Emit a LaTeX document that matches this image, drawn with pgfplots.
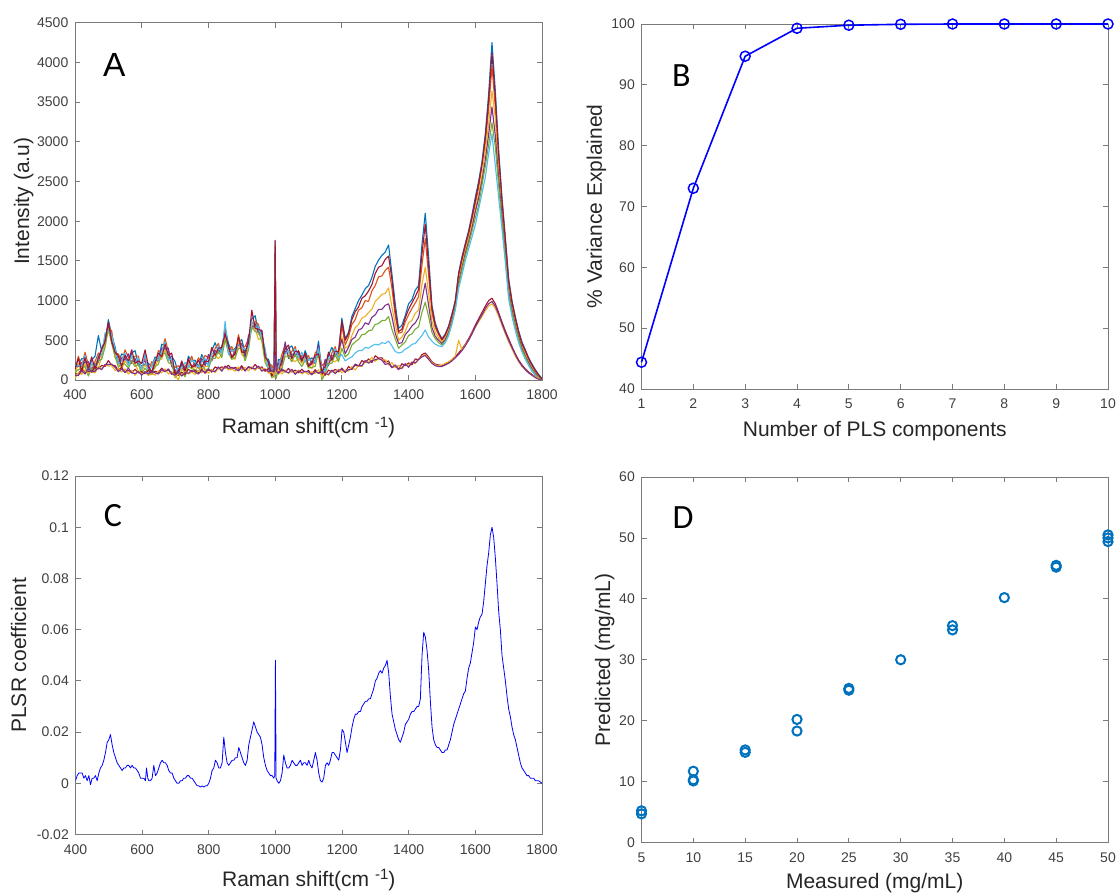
\documentclass[border=0pt]{standalone}
\usepackage{pgfplots}
\usepackage{pgfplotstable}
\pgfplotsset{compat=1.18}
\usepackage{fontspec}
\setmainfont{Liberation Sans}
\newfontfamily\calibri{Carlito}

\definecolor{m1}{rgb}{0,0.447,0.741}
\definecolor{m2}{rgb}{0.85,0.325,0.098}
\definecolor{m3}{rgb}{0.929,0.694,0.125}
\definecolor{m4}{rgb}{0.494,0.184,0.556}
\definecolor{m5}{rgb}{0.466,0.674,0.188}
\definecolor{m6}{rgb}{0.301,0.745,0.933}
\definecolor{m7}{rgb}{0.635,0.078,0.184}

\pgfplotstableread{
x b o y p g c r l1 l2 l3
400 210 120 70 170 90 180 140 80 20 60
410 190 300 210 170 130 180 270 75 95 55
420 270 170 80 220 150 180 110 140 70 120
430 270 350 210 220 170 310 280 95 130 75
440 100 190 80 230 50 80 140 110 85 150
450 250 140 200 120 150 220 290 100 105 100
460 300 230 130 200 100 150 140 165 90 110
470 560 340 150 220 240 310 280 140 160 155
480 360 290 300 400 260 310 390 185 145 130
490 460 550 450 500 410 590 480 170 195 195
500 760 660 670 710 640 620 730 245 175 195
510 560 620 510 490 460 570 480 185 180 200
520 420 330 280 380 300 390 350 180 120 160
530 220 330 240 200 160 210 300 125 145 105
540 330 230 140 280 210 240 170 160 100 140
550 300 380 240 250 200 340 310 95 140 95
560 200 290 180 330 150 180 240 120 75 150
570 340 230 290 210 240 310 380 90 125 90
580 370 300 200 270 170 220 210 135 60 80
590 200 300 110 180 200 270 240 90 110 105
600 180 110 120 220 80 130 210 105 75 60
610 200 290 190 240 150 330 380 80 105 105
620 210 110 120 160 90 70 180 125 55 75
630 170 230 120 100 70 180 90 75 80 110
640 290 200 150 250 170 260 220 110 60 90
650 260 370 280 240 200 250 340 95 115 75
660 450 350 260 400 330 360 290 150 90 130
670 440 520 380 390 340 480 450 105 140 105
680 270 360 250 400 220 250 310 130 75 140
690 300 190 250 170 200 270 340 70 105 80
700 230 160 60 130 30 80 70 105 40 60
710 80 180 0 60 80 150 120 60 80 95
720 200 130 140 240 100 150 230 95 65 50
730 90 180 80 130 40 220 110 70 105 95
740 300 200 210 250 180 160 270 135 75 85
750 240 300 190 170 140 250 160 105 100 120
760 250 160 110 210 130 220 180 120 70 100
770 170 280 190 150 110 160 250 85 115 75
780 320 220 130 270 200 230 160 140 90 120
790 230 310 170 180 130 270 240 85 130 95
800 190 280 170 320 140 170 230 130 85 140
810 370 260 320 240 270 340 410 100 135 110
820 470 400 300 370 270 320 310 165 90 110
830 360 460 270 340 360 430 400 140 150 165
840 380 310 320 420 280 330 410 165 135 110
850 660 650 550 600 510 740 580 150 175 175
860 460 360 370 410 340 320 430 185 125 145
870 360 420 310 290 260 370 280 135 140 160
880 400 310 260 360 280 370 330 160 110 140
890 460 570 480 440 400 450 540 135 165 115
900 510 410 320 460 390 420 350 180 120 160
910 340 420 280 290 240 380 350 115 160 115
920 430 520 410 560 380 410 470 160 115 170
930 770 660 720 640 670 740 880 140 165 150
940 810 740 640 710 610 660 650 195 120 140
950 600 700 510 580 600 670 640 150 170 175
960 590 520 530 630 490 540 620 165 135 110
970 270 360 260 310 220 400 290 110 145 135
980 260 160 170 210 140 120 230 145 85 105
990 130 190 80 60 30 140 50 95 100 120
997 170 80 30 130 50 140 100 120 70 100
1000 1750 1700 1500 1600 1550 1650 1760 350 300 320
1003 80 190 100 60 20 70 160 130 80 120
1010 260 160 70 210 140 170 100 85 130 85
1020 240 320 180 190 140 280 250 120 75 140
1030 350 440 330 480 300 330 390 100 125 110
1040 400 290 350 270 300 370 440 145 80 90
1050 430 360 260 330 230 280 270 100 120 135
1060 320 420 230 300 320 390 360 125 95 70
1070 330 260 270 370 230 280 360 90 125 115
1080 220 310 210 260 170 350 240 135 75 95
1090 370 270 280 320 250 230 340 95 100 110
1100 250 310 200 180 150 260 170 120 70 100
1110 280 190 140 240 160 250 210 75 105 65
1120 230 340 250 210 170 220 310 130 80 110
1130 490 390 300 440 370 400 330 85 130 85
1140 100 180 40 50 0 140 110 90 45 110
1150 130 220 110 260 80 110 170 60 95 80
1160 310 200 260 180 210 280 350 125 60 70
1170 410 340 240 310 210 260 250 100 120 125
1180 320 420 230 300 320 390 360 135 95 80
1190 330 260 270 370 230 280 360 100 135 125
1200 780 690 540 510 400 320 740 150 90 130
1210 520 440 400 330 290 240 500 95 125 105
1220 600 540 430 410 330 270 580 170 110 130
1230 800 700 560 510 440 290 760 135 170 135
1240 900 760 660 540 480 340 860 190 125 200
1250 1000 880 700 630 510 370 920 170 185 180
1260 1070 910 780 650 570 370 1030 245 170 180
1270 1150 1000 800 720 580 410 1060 220 230 245
1280 1190 990 850 700 620 400 1120 265 225 210
1290 1290 1120 890 790 630 430 1200 220 285 245
1300 1430 1190 990 820 700 450 1340 305 235 255
1310 1510 1300 1030 890 710 440 1420 275 270 270
1320 1570 1310 1080 890 750 470 1440 280 250 250
1330 1610 1380 1090 940 750 460 1520 225 255 195
1340 1700 1420 1160 960 800 490 1560 240 190 210
1350 1340 1160 920 800 640 430 1270 155 220 155
1360 960 810 700 590 520 360 880 180 155 190
1370 650 590 500 460 400 340 610 130 185 140
1380 690 600 540 470 440 350 640 205 140 150
1390 810 730 610 570 480 390 780 180 200 205
1400 960 820 720 620 560 410 890 215 185 160
1410 1010 900 750 680 580 450 970 190 225 225
1420 1130 970 840 720 640 460 1050 265 205 215
1430 1190 1050 880 790 670 510 1140 255 260 260
1440 1700 1440 1200 1010 850 560 1580 320 300 290
1450 2100 1780 1420 1220 980 630 1960 340 320 310
1460 1560 1320 1100 940 800 540 1440 290 270 260
1470 940 850 740 660 600 490 910 230 220 210
1480 720 660 600 550 520 450 690 200 190 180
1490 600 570 530 500 470 430 590 190 180 170
1500 520 500 480 460 440 420 510 180 190 170
1510 580 560 530 510 490 470 570 200 210 190
1520 680 650 630 600 580 560 670 220 230 210
1530 830 800 770 750 730 700 820 250 260 240
1540 1000 970 950 920 900 880 990 290 300 280
1550 1350 1310 1260 1230 1200 1150 1330 340 500 320
1560 1550 1500 1450 1410 1380 1320 1530 390 380 370
1570 1720 1670 1620 1590 1560 1500 1700 450 440 430
1580 1880 1830 1780 1740 1710 1650 1860 520 500 500
1590 2080 2020 1950 1910 1870 1800 2050 600 580 580
1600 2300 2220 2140 2120 2040 1950 2260 690 660 670
1610 2500 2420 2340 2290 2200 2150 2470 770 730 750
1620 2750 2700 2570 2510 2450 2350 2710 850 800 820
1630 3100 2980 2900 2770 2690 2550 3050 930 870 900
1640 3600 3410 3220 3090 2960 2850 3520 1000 930 960
1650 4250 3950 3640 3440 3240 3100 4120 1030 960 990
1660 3650 3440 3300 3080 2940 2700 3560 960 900 930
1670 2900 2770 2630 2540 2450 2300 2840 850 800 830
1680 2300 2210 2120 2060 2000 1900 2260 730 690 710
1690 1800 1730 1660 1610 1560 1480 1770 620 580 600
1700 1280 1220 1160 1120 1080 1020 1250 520 480 500
1710 1000 960 910 880 850 800 980 420 390 410
1720 800 760 720 690 670 620 780 330 300 320
1730 620 590 550 530 510 470 600 250 230 240
1740 480 450 420 400 380 350 460 190 170 180
1750 380 350 320 300 290 260 370 140 130 130
1760 280 260 230 220 200 180 270 100 90 90
1770 200 180 150 140 130 110 190 70 60 60
1780 130 110 90 80 70 60 120 40 40 30
1790 70 50 40 30 30 20 60 20 20 10
1800 20 10 0 0 0 0 10 0 0 0
}\spectra

\pgfplotstableread{
x y
400 0.001
405 0.003
410 0.004
415 0.004
420 0.004
425 0.002
430 0.003
435 0.001
440 0.003
445 -0.0005
450 0.002
455 0.002
460 0.003
465 0.001
470 0.004
475 0.006
480 0.007
485 0.009
490 0.012
495 0.016
500 0.017
505 0.019
510 0.015
515 0.012
520 0.010
525 0.008
530 0.007
540 0.005
545 0.006
550 0.006
555 0.007
560 0.007
565 0.006
570 0.007
575 0.006
580 0.006
585 0.005
590 0.004
595 0.002
600 0.002
605 0.002
610 0.001
613 0.006
617 0.002
620 0.001
625 0.001
630 0.002
635 0.007
640 0.003
645 0.004
650 0.006
655 0.008
660 0.009
665 0.008
670 0.008
675 0.007
680 0.005
685 0.004
690 0.004
695 0.002
700 0.001
705 0.0
710 0.0
715 0.001
720 0.001
725 0.002
730 0.002
735 0.003
740 0.003
745 0.002
750 0.002
755 0.001
760 0.0
765 -0.001
770 -0.001
775 -0.0015
780 -0.001
785 -0.0015
790 -0.001
795 -0.001
800 0.0
805 0.002
810 0.005
815 0.006
820 0.009
825 0.008
830 0.006
835 0.006
840 0.008
845 0.018
850 0.012
855 0.008
860 0.007
865 0.008
870 0.009
875 0.009
880 0.010
885 0.010
890 0.014
895 0.012
900 0.010
905 0.008
910 0.007
915 0.009
920 0.015
925 0.018
930 0.021
935 0.024
940 0.022
945 0.020
950 0.019
955 0.018
960 0.015
965 0.010
970 0.007
975 0.005
980 0.004
985 0.003
990 0.003
995 0.002
998 0.003
1000 0.048
1002 0.002
1005 0.001
1010 0.0
1015 0.001
1020 0.004
1025 0.011
1030 0.008
1035 0.006
1040 0.006
1045 0.007
1050 0.009
1055 0.008
1060 0.007
1065 0.007
1070 0.008
1075 0.009
1080 0.007
1085 0.008
1090 0.008
1095 0.007
1100 0.009
1105 0.007
1110 0.006
1115 0.009
1120 0.012
1125 0.009
1130 0.004
1135 0.001
1140 0.0005
1145 0.002
1150 0.007
1155 0.008
1160 0.007
1165 0.009
1170 0.012
1175 0.012
1180 0.011
1185 0.010
1190 0.009
1195 0.013
1200 0.021
1205 0.020
1210 0.016
1215 0.012
1220 0.015
1225 0.018
1230 0.022
1235 0.025
1240 0.027
1245 0.027
1250 0.028
1255 0.028
1260 0.030
1265 0.031
1270 0.032
1275 0.032
1280 0.033
1285 0.033
1290 0.035
1295 0.037
1300 0.040
1305 0.041
1310 0.043
1315 0.044
1320 0.043
1325 0.045
1330 0.046
1335 0.048
1340 0.043
1345 0.034
1350 0.027
1355 0.024
1360 0.021
1365 0.019
1370 0.017
1375 0.016
1380 0.018
1385 0.020
1390 0.023
1395 0.024
1400 0.025
1405 0.027
1410 0.028
1415 0.028
1420 0.029
1425 0.030
1430 0.030
1435 0.033
1440 0.050
1445 0.059
1450 0.057
1455 0.052
1460 0.044
1465 0.032
1470 0.022
1475 0.017
1480 0.015
1485 0.014
1490 0.014
1495 0.013
1500 0.012
1505 0.012
1510 0.013
1515 0.013
1520 0.015
1525 0.017
1530 0.020
1535 0.023
1540 0.025
1545 0.027
1550 0.029
1555 0.031
1560 0.033
1565 0.035
1570 0.036
1575 0.041
1580 0.045
1585 0.047
1590 0.051
1595 0.055
1600 0.061
1605 0.060
1610 0.063
1615 0.065
1620 0.066
1625 0.071
1630 0.078
1635 0.085
1640 0.090
1645 0.097
1650 0.100
1655 0.096
1660 0.088
1665 0.078
1670 0.067
1675 0.060
1680 0.050
1685 0.045
1690 0.040
1695 0.034
1700 0.029
1705 0.026
1710 0.022
1715 0.019
1720 0.017
1725 0.014
1730 0.011
1735 0.008
1740 0.006
1745 0.005
1750 0.004
1755 0.003
1760 0.003
1765 0.002
1770 0.002
1775 0.002
1780 0.001
1785 0.001
1790 0.001
1795 0.0005
1800 0.0
}\coef

\pgfplotstableread{
n v
1 44.4
2 73.0
3 94.7
4 99.3
5 99.8
6 99.95
7 100
8 100
9 100
10 100
}\variance

\pgfplotstableread{
m p
5 4.7
5 5.2
10 10.1
10 10.3
10 11.7
15 14.8
15 15.2
20 18.3
20 20.2
25 25.0
25 25.3
30 30.0
35 34.9
35 35.6
40 40.2
45 45.2
45 45.5
50 49.4
50 50.0
50 50.5
}\predicted

\pgfplotsset{
  mystyle/.style={
    scale only axis,
    axis line style={draw=black!52, line width=0.9pt},
    tick style={draw=black!52, line width=0.8pt},
    major tick length=5pt,
    tick align=inside,
    /pgf/number format/assume math mode=true,
    /pgf/number format/1000 sep={},
    scaled ticks=false,
    ticklabel style={font=\fontsize{14}{16}\selectfont, text=black!75},
    xticklabel style={anchor=north, inner sep=0pt, yshift=-10pt},
    yticklabel style={anchor=east, inner sep=0pt, xshift=-6.5pt},
    label style={font=\fontsize{21}{24}\selectfont, text=black!85, inner sep=0pt},
    xlabel style={anchor=base},
    ylabel style={anchor=base},
  }
}

\begin{document}
\begin{tikzpicture}
\useasboundingbox (0,0) rectangle (1116pt,892pt);

% ---------------- A ----------------
\begin{axis}[mystyle,
  at={(75pt,512pt)}, anchor=south west, width=467pt, height=357.3pt,
  xmin=400, xmax=1800, ymin=0, ymax=4500,
  xtick={400,600,...,1800}, ytick={0,500,...,4500},
  xlabel={Raman shift(cm \raisebox{0.55ex}{\fontsize{15}{15}\selectfont -1})},
  ylabel={Intensity (a.u)},
  xlabel style={at={(axis description cs:0.5,-0.1511)}},
  ylabel style={at={(axis description cs:-0.0985,0.5)}},
  every axis plot/.append style={line width=1.1pt, line join=round},
]
\addplot[m1] table[x=x,y=b]{\spectra};
\addplot[m2] table[x=x,y=o]{\spectra};
\addplot[m3] table[x=x,y=y]{\spectra};
\addplot[m4] table[x=x,y=p]{\spectra};
\addplot[m5] table[x=x,y=g]{\spectra};
\addplot[m6] table[x=x,y=c]{\spectra};
\addplot[m7] table[x=x,y=r]{\spectra};
\addplot[m7] table[x=x,y=l1]{\spectra};
\addplot[m3] table[x=x,y=l2]{\spectra};
\addplot[m4] table[x=x,y=l3]{\spectra};
\end{axis}

% ---------------- B ----------------
\begin{axis}[mystyle,
  at={(641.5pt,503pt)}, anchor=south west, width=466.5pt, height=365pt,
  xmin=1, xmax=10, ymin=40, ymax=100,
  xtick={1,2,...,10}, ytick={40,50,...,100},
  xlabel={Number of PLS components},
  ylabel={\% Variance Explained},
  xlabel style={at={(axis description cs:0.5,-0.1307)}},
  ylabel style={at={(axis description cs:-0.0847,0.5)}},
  clip=false,
]
\addplot[blue, line width=1.6pt, mark=o, mark size=5pt, mark options={line width=1.5pt, solid}] table[x=n,y=v]{\variance};
\end{axis}

% ---------------- C ----------------
\begin{axis}[mystyle,
  at={(75.5pt,57.5pt)}, anchor=south west, width=466.5pt, height=358.5pt,
  xmin=400, xmax=1800, ymin=-0.02, ymax=0.12,
  xtick={400,600,...,1800},
  ytick={-0.02,0,0.02,0.04,0.06,0.08,0.1,0.12},
  yticklabels={-0.02,0,0.02,0.04,0.06,0.08,0.1,0.12},
  xlabel={Raman shift(cm \raisebox{0.55ex}{\fontsize{15}{15}\selectfont -1})},
  ylabel={PLSR coefficient},
  xlabel style={at={(axis description cs:0.5,-0.1437)}},
  ylabel style={at={(axis description cs:-0.1061,0.5)}},
]
\addplot[blue, line width=0.8pt, line join=round] table[x=x,y=y]{\coef};
\end{axis}

% ---------------- D ----------------
\begin{axis}[mystyle,
  at={(641.5pt,49.5pt)}, anchor=south west, width=466.5pt, height=365.5pt,
  xmin=5, xmax=50, ymin=0, ymax=60,
  xtick={5,10,...,50}, ytick={0,10,...,60},
  xlabel={Measured (mg/mL)},
  ylabel={Predicted (mg/mL)},
  xlabel style={at={(axis description cs:0.5,-0.1245)}},
  ylabel style={at={(axis description cs:-0.0675,0.5)}},
  clip=false,
]
\addplot[only marks, mark=o, mark size=4.6pt, m1, mark options={line width=2pt}] table[x=m,y=p]{\predicted};
\end{axis}

% panel letters
\node[anchor=base west, inner sep=0pt, font=\fontsize{33.5}{36}\selectfont] at (103pt,815pt) {A};
\node[anchor=base west, inner sep=0pt, font=\calibri\fontsize{34}{36}\selectfont] at (672pt,805pt) {B};
\node[anchor=base west, inner sep=0pt, font=\calibri\fontsize{34}{36}\selectfont] at (103.6pt,365pt) {C};
\node[anchor=base west, inner sep=0pt, font=\calibri\fontsize{34}{36}\selectfont] at (672.5pt,363.7pt) {D};
\end{tikzpicture}
\end{document}
